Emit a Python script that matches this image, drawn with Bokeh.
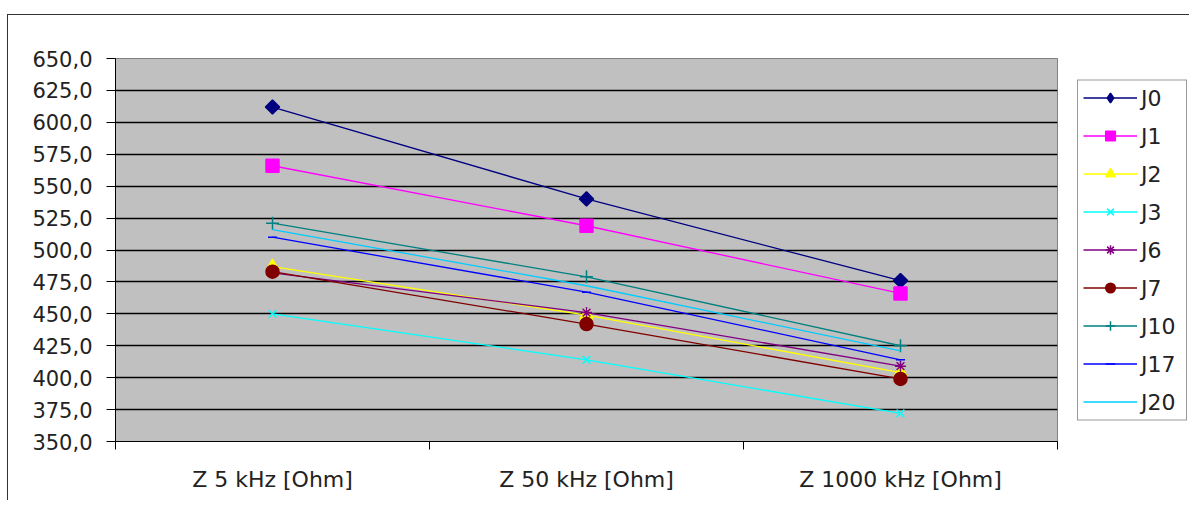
import math
from bokeh.plotting import figure
from bokeh.layouts import row
from bokeh.models import FixedTicker, Legend, LegendItem
from bokeh.embed import file_html
from bokeh.resources import INLINE

categories = ["Z 5 kHz [Ohm]", "Z 50 kHz [Ohm]", "Z 1000 kHz [Ohm]"]
series_names = ["J0", "J1", "J2", "J3", "J6", "J7", "J10", "J17", "J20"]
J0 = [612, 540, 476]
J1 = [566, 519, 466]
J2 = [487, 449, 404]
J3 = [450, 414, 372]
J6 = [482, 451, 409]
J7 = [483, 442, 399]
J10 = [521, 479, 425]
J17 = [510, 467, 414]
J20 = [516, 472, 421]
y_ticks = [350, 375, 400, 425, 450, 475, 500, 525, 550, 575, 600, 625, 650]

series = [J0, J1, J2, J3, J6, J7, J10, J17, J20]
colors = ["#000080", "#FF00FF", "#FFFF00", "#00FFFF", "#800080", "#800000", "#008080", "#0000FF", "#00CCFF"]
markers = ["square", "square", "triangle", "x", "asterisk", "circle", "cross", "dash", None]
legend_markers = ["diamond", "square", "triangle", "x", "asterisk", "circle", "cross", "dash", None]
angles = [math.pi / 4, 0, 0, 0, 0, 0, 0, 0, 0]
msizes = [10, 13, 13, 11, 11, 13, 13, 9, 0]
lsizes = [14, 13, 13, 11, 11, 13, 13, 9, 0]

xs = [i + 0.5 for i in range(len(categories))]
font = "DejaVu Sans"

p = figure(width=1068, height=485, output_backend="svg", toolbar_location=None,
           x_range=(0, len(categories)), y_range=(y_ticks[0], y_ticks[-1]),
           min_border_left=107, min_border_right=19, min_border_top=43, min_border_bottom=59)
p.background_fill_color = "#C0C0C0"
p.border_fill_color = "white"
p.outline_line_color = "#808080"
p.outline_line_width = 1

# y axis
p.yaxis.ticker = FixedTicker(ticks=y_ticks)
p.yaxis.major_label_overrides = {v: f"{v},0" for v in y_ticks}
p.yaxis.major_tick_out = 9
p.yaxis.major_tick_in = 0
p.yaxis.minor_tick_out = 0
p.yaxis.minor_tick_in = 0
p.yaxis.axis_line_color = "black"
p.yaxis.major_tick_line_color = "black"
p.yaxis.major_label_text_font = font
p.yaxis.major_label_text_font_size = "21px"
p.yaxis.major_label_text_color = "#222222"
p.yaxis.major_label_standoff = 14

# x axis
p.xaxis.ticker = FixedTicker(ticks=xs, minor_ticks=list(range(len(categories) + 1)))
p.xaxis.major_label_overrides = {x: c for x, c in zip(xs, categories)}
p.xaxis.major_tick_out = 0
p.xaxis.major_tick_in = 0
p.xaxis.minor_tick_out = 8
p.xaxis.minor_tick_in = 0
p.xaxis.minor_tick_line_color = "black"
p.xaxis.axis_line_color = "black"
p.xaxis.major_label_text_font = font
p.xaxis.major_label_text_font_size = "22px"
p.xaxis.major_label_text_color = "#222222"
p.xaxis.major_label_standoff = 17

p.xgrid.grid_line_color = None
p.ygrid.ticker = FixedTicker(ticks=y_ticks)
p.ygrid.grid_line_color = "black"
p.ygrid.grid_line_width = 1.6

# legend figure (its own copies of the series, kept out of view; only the legend shows)
lg = figure(width=113, height=485, output_backend="svg", toolbar_location=None,
            x_range=(100, 101), y_range=(0, 1),
            min_border_left=0, min_border_right=0, min_border_top=0, min_border_bottom=0)
lg.axis.visible = False
lg.grid.grid_line_color = None
lg.outline_line_color = None
lg.background_fill_color = "white"
lg.border_fill_color = "white"

items = []
for name, vals, c, m, lm, s, ls, a in zip(series_names, series, colors, markers, legend_markers,
                                          msizes, lsizes, angles):
    p.line(xs, vals, line_color=c, line_width=1.3)
    r = [lg.line(xs, vals, line_color=c, line_width=1.3)]
    if m is not None:
        p.scatter(xs, vals, marker=m, size=s, angle=a, line_color=c, fill_color=c, line_width=1.5)
        r.append(lg.scatter(xs, vals, marker=lm, size=ls, line_color=c, fill_color=c, line_width=1.5))
    items.append(LegendItem(label=name, renderers=r))

legend = Legend(items=items, location="left", glyph_width=54, glyph_height=24,
                label_height=24, label_width=40, spacing=13, padding=5, margin=1, label_standoff=4,
                label_text_font=font, label_text_font_size="22px", label_text_color="#222222",
                border_line_color="#333333", border_line_width=1.5,
                background_fill_color="white", background_fill_alpha=1)
lg.add_layout(legend, "center")

layout = row(p, lg, spacing=0)
layout.styles = {"border-top": "1px solid #333333", "border-left": "1px solid #333333",
                 "margin-top": "14px", "margin-left": "7px"}

open("out.html", "w").write(file_html(layout, INLINE))
